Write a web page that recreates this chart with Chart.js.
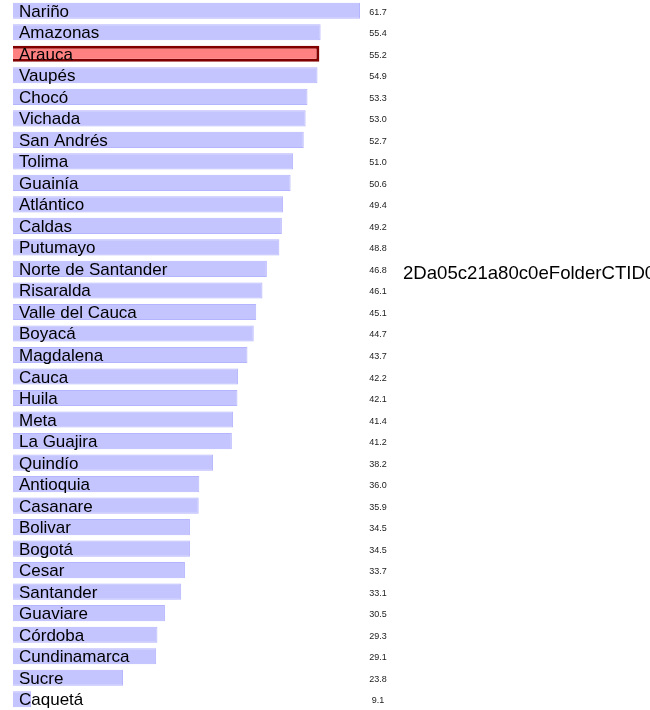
<!DOCTYPE html>
<html>
<head>
    <title>Departamentos</title>
    <style>
        body { margin: 0; background: #fff; }
        canvas { display: block; }
    </style>
</head>
<body>
    <canvas id="chart" width="650" height="710"></canvas>
    <script src="https://cdn.jsdelivr.net/npm/chart.js@4/dist/chart.umd.min.js"></script>
    <script>
        // Data
        const departamentos = ['Nariño', 'Amazonas', 'Arauca', 'Vaupés', 'Chocó', 'Vichada', 'San Andrés', 'Tolima',
            'Guainía', 'Atlántico', 'Caldas', 'Putumayo', 'Norte de Santander', 'Risaralda', 'Valle del Cauca',
            'Boyacá', 'Magdalena', 'Cauca', 'Huila', 'Meta', 'La Guajira', 'Quindío', 'Antioquia', 'Casanare',
            'Bolivar', 'Bogotá', 'Cesar', 'Santander', 'Guaviare', 'Córdoba', 'Cundinamarca', 'Sucre', 'Caquetá'];
        const valores = [61.7, 55.4, 55.2, 54.9, 53.3, 53.0, 52.7, 51.0, 50.6, 49.4, 49.2, 48.8, 46.8, 46.1, 45.1,
            44.7, 43.7, 42.2, 42.1, 41.4, 41.2, 38.2, 36.0, 35.9, 34.5, 34.5, 33.7, 33.1, 30.5, 29.3, 29.1, 23.8, 9.1];
        const destacado = 'Arauca';
        const notaSuelta = '2Da05c21a80c0eFolderCTID0';
        const notaFila = 'Norte de Santander';

        const fondo = departamentos.map(d => d === destacado ? '#ff8080' : '#c4c4ff');
        const borde = departamentos.map(d => d === destacado ? '#800000' : '#b4b4ff');
        const grosor = departamentos.map(d => d === destacado ? 3 : 1);

        // Labels inside bars, values in a column on the right
        const etiquetas = {
            id: 'etiquetas',
            afterDatasetsDraw(chart) {
                const ctx = chart.ctx;
                const y = chart.scales.y;
                ctx.save();
                ctx.textBaseline = 'alphabetic';
                departamentos.forEach((d, i) => {
                    const cy = y.getPixelForValue(i);
                    ctx.fillStyle = '#000';
                    ctx.textAlign = 'left';
                    ctx.font = '17px "Liberation Sans", Arial, sans-serif';
                    ctx.fillText(d, 19, cy + 6);
                    ctx.fillStyle = '#222';
                    ctx.textAlign = 'center';
                    ctx.font = '9px "Liberation Sans", Arial, sans-serif';
                    ctx.fillText(valores[i].toFixed(1), 378, cy + 4);
                    if (d === notaFila) {
                        ctx.fillStyle = '#000';
                        ctx.textAlign = 'left';
                        ctx.font = '18.6px "Liberation Sans", Arial, sans-serif';
                        ctx.fillText(notaSuelta, 403, cy + 10);
                    }
                });
                ctx.restore();
            }
        };

        new Chart(document.getElementById('chart'), {
            type: 'bar',
            data: {
                labels: departamentos,
                datasets: [{
                    data: valores,
                    backgroundColor: fondo,
                    borderColor: borde,
                    borderWidth: grosor,
                    barPercentage: 0.75,
                    categoryPercentage: 1.0
                }]
            },
            options: {
                indexAxis: 'y',
                responsive: false,
                animation: false,
                layout: { padding: { left: 13, right: 290, top: 0, bottom: 0 } },
                scales: {
                    x: { display: false, min: 6.2, max: 61.7 },
                    y: { display: false }
                },
                plugins: {
                    legend: { display: false },
                    tooltip: { enabled: false }
                }
            },
            plugins: [etiquetas]
        });
    </script>
</body>
</html>
